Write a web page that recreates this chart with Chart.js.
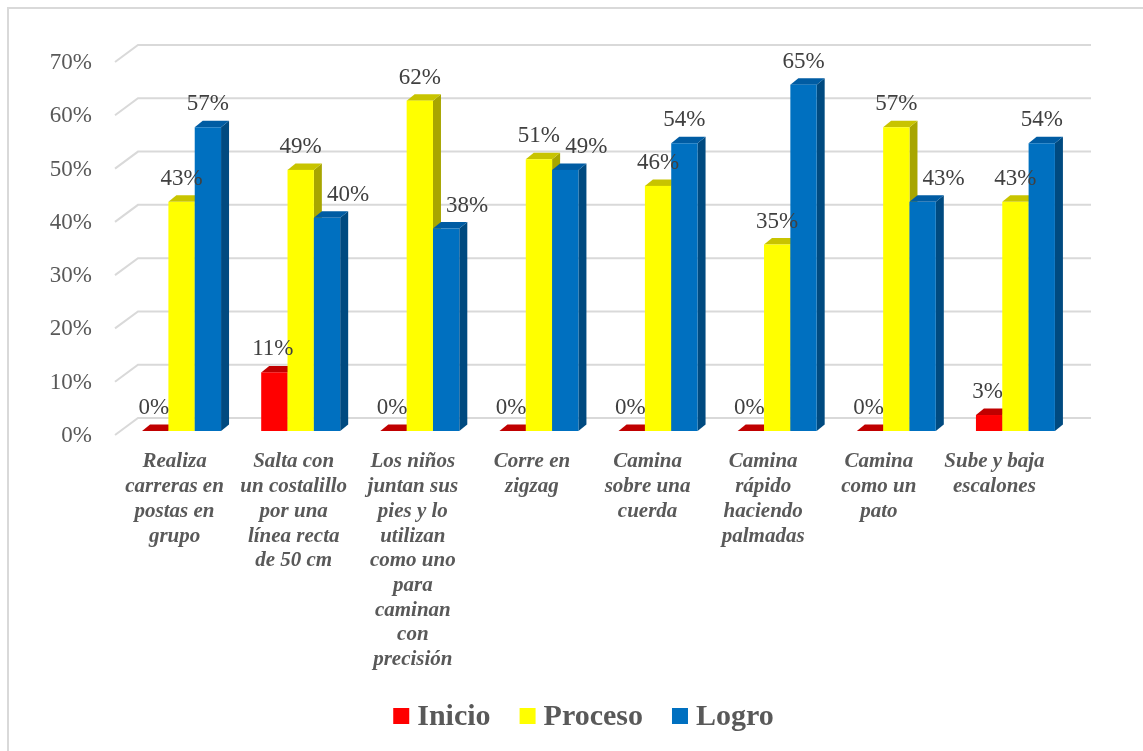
<!DOCTYPE html>
<html lang="es">
<head>
    <meta charset="UTF-8">
    <title>Resultados</title>
    <script src="https://cdn.jsdelivr.net/npm/chart.js@4.4.1/dist/chart.umd.min.js"></script>
    <style>
        html, body { margin: 0; padding: 0; background: #ffffff; }
        #wrap { width: 1143px; height: 751px; position: relative; }
    </style>
</head>
<body>
    <div id="wrap">
        <canvas id="grafico" width="1143" height="751"></canvas>
    </div>

    <script>
        // datos
        const categorias = [
            ['Realiza', 'carreras en', 'postas en', 'grupo'],
            ['Salta con', 'un costalillo', 'por una', 'línea recta', 'de 50 cm'],
            ['Los niños', 'juntan sus', 'pies y lo', 'utilizan', 'como uno', 'para', 'caminan', 'con', 'precisión'],
            ['Corre en', 'zigzag'],
            ['Camina', 'sobre una', 'cuerda'],
            ['Camina', 'rápido', 'haciendo', 'palmadas'],
            ['Camina', 'como un', 'pato'],
            ['Sube y baja', 'escalones']
        ];
        const series = ['Inicio', 'Proceso', 'Logro'];
        const inicio = [0, 11, 0, 0, 0, 0, 0, 3];
        const proceso = [43, 49, 62, 51, 46, 35, 57, 43];
        const logro = [57, 40, 38, 49, 54, 65, 43, 54];
        const ticksY = [0, 10, 20, 30, 40, 50, 60, 70];

        // colores: frente, arriba, lado
        const colores = [
            { frente: '#FF0000', arriba: '#C00000', lado: '#A00000' },
            { frente: '#FFFF00', arriba: '#C8C400', lado: '#A8A600' },
            { frente: '#0070C0', arriba: '#005CA3', lado: '#004A80' }
        ];

        const serif = "'Liberation Serif', 'Times New Roman', serif";
        const prof = { dx: 8, dy: 6.5 };   // profundidad de las barras
        const fondo = { dx: 23, dy: 17 };  // profundidad del piso / paredes

        // borde exterior y fondo blanco
        const pluginMarco = {
            id: 'marco',
            beforeDraw(chart) {
                const ctx = chart.ctx;
                ctx.save();
                ctx.fillStyle = '#ffffff';
                ctx.fillRect(0, 0, chart.width, chart.height);
                ctx.strokeStyle = '#D9D9D9';
                ctx.lineWidth = 2;
                ctx.beginPath();
                ctx.moveTo(8, chart.height);
                ctx.lineTo(8, 8);
                ctx.lineTo(chart.width, 8);
                ctx.stroke();
                ctx.restore();
            }
        };

        // grid en 3d, barras en 3d, etiquetas y leyenda
        const plugin3d = {
            id: 'barras3d',
            beforeDatasetsDraw(chart) {
                const ctx = chart.ctx;
                const y = chart.scales.y;
                const x = chart.scales.x;
                const area = chart.chartArea;
                const xFrente = area.left - 7;
                const xFondo = xFrente + fondo.dx;
                const xFin = area.right + 16;

                ctx.save();
                // lineas del grid
                ctx.strokeStyle = '#D9D9D9';
                ctx.lineWidth = 2;
                ticksY.forEach(v => {
                    const py = y.getPixelForValue(v);
                    ctx.beginPath();
                    ctx.moveTo(xFrente, py + 4);
                    ctx.lineTo(xFondo, py + 4 - fondo.dy);
                    ctx.lineTo(xFin, py + 4 - fondo.dy);
                    ctx.stroke();
                });

                // etiquetas eje y
                ctx.fillStyle = '#595959';
                ctx.font = '23px ' + serif;
                ctx.textAlign = 'right';
                ctx.textBaseline = 'middle';
                ticksY.forEach(v => {
                    ctx.fillText(v + '%', 92, y.getPixelForValue(v) + 5);
                });

                // barras
                const metas = [0, 1, 2].map(d => chart.getDatasetMeta(d));
                for (let i = 0; i < categorias.length; i++) {
                    for (let d = 0; d < 3; d++) {
                        const b = metas[d].data[i].getProps(['x', 'y', 'base', 'width'], true);
                        const izq = b.x - b.width / 2;
                        const der = b.x + b.width / 2;
                        const c = colores[d];
                        // lado
                        ctx.fillStyle = c.lado;
                        ctx.beginPath();
                        ctx.moveTo(der, b.y);
                        ctx.lineTo(der + prof.dx, b.y - prof.dy);
                        ctx.lineTo(der + prof.dx, b.base - prof.dy);
                        ctx.lineTo(der, b.base);
                        ctx.closePath();
                        ctx.fill();
                        // arriba
                        ctx.fillStyle = c.arriba;
                        ctx.beginPath();
                        ctx.moveTo(izq, b.y);
                        ctx.lineTo(izq + prof.dx, b.y - prof.dy);
                        ctx.lineTo(der + prof.dx, b.y - prof.dy);
                        ctx.lineTo(der, b.y);
                        ctx.closePath();
                        ctx.fill();
                        // frente
                        ctx.fillStyle = c.frente;
                        ctx.fillRect(izq, b.y, b.width, b.base - b.y);
                    }
                }

                // etiquetas de datos
                ctx.fillStyle = '#404040';
                ctx.font = '23px ' + serif;
                ctx.textAlign = 'center';
                ctx.textBaseline = 'middle';
                for (let i = 0; i < categorias.length; i++) {
                    for (let d = 0; d < 3; d++) {
                        const valor = chart.data.datasets[d].data[i];
                        const b = metas[d].data[i].getProps(['x', 'y'], true);
                        let px = b.x;
                        if (d === 0) px -= 1.5;
                        if (d === 2 && proceso[i] > logro[i]) px += 21;
                        ctx.fillText(valor + '%', px, b.y - 23);
                    }
                }

                // etiquetas de categorias
                ctx.fillStyle = '#595959';
                ctx.font = 'italic bold 21px ' + serif;
                categorias.forEach((lineas, i) => {
                    const cx = x.getPixelForValue(i) - 7 - Math.max(0, i - 3) * 3.5;
                    lineas.forEach((t, k) => {
                        ctx.fillText(t, cx, 462 + k * 24.7);
                    });
                });

                // leyenda
                ctx.font = 'bold 30px ' + serif;
                ctx.textAlign = 'left';
                const caja = 16, sep = 8, hueco = 29;
                let total = 0;
                series.forEach((s, d) => {
                    total += caja + sep + ctx.measureText(s).width + (d < 2 ? hueco : 0);
                });
                let lx = (area.left + area.right) / 2 - 15 - total / 2;
                const ly = 716;
                series.forEach((s, d) => {
                    ctx.fillStyle = colores[d].frente;
                    ctx.fillRect(lx, ly - 8, caja, caja);
                    lx += caja + sep;
                    ctx.fillStyle = '#595959';
                    ctx.fillText(s, lx, ly + 1);
                    lx += ctx.measureText(s).width + hueco;
                });

                ctx.restore();
                return false;
            }
        };

        new Chart(document.getElementById('grafico'), {
            type: 'bar',
            data: {
                labels: categorias,
                datasets: [
                    { label: series[0], data: inicio, backgroundColor: colores[0].frente },
                    { label: series[1], data: proceso, backgroundColor: colores[1].frente },
                    { label: series[2], data: logro, backgroundColor: colores[2].frente }
                ]
            },
            options: {
                responsive: false,
                animation: false,
                devicePixelRatio: 1,
                layout: {
                    padding: { left: 122, right: 68, top: 58, bottom: 320 }
                },
                datasets: {
                    bar: { categoryPercentage: 0.663, barPercentage: 1.0 }
                },
                plugins: {
                    legend: { display: false },
                    tooltip: { enabled: false }
                },
                scales: {
                    x: { display: false },
                    y: { display: false, min: 0, max: 70 }
                }
            },
            plugins: [pluginMarco, plugin3d]
        });
    </script>
</body>
</html>
